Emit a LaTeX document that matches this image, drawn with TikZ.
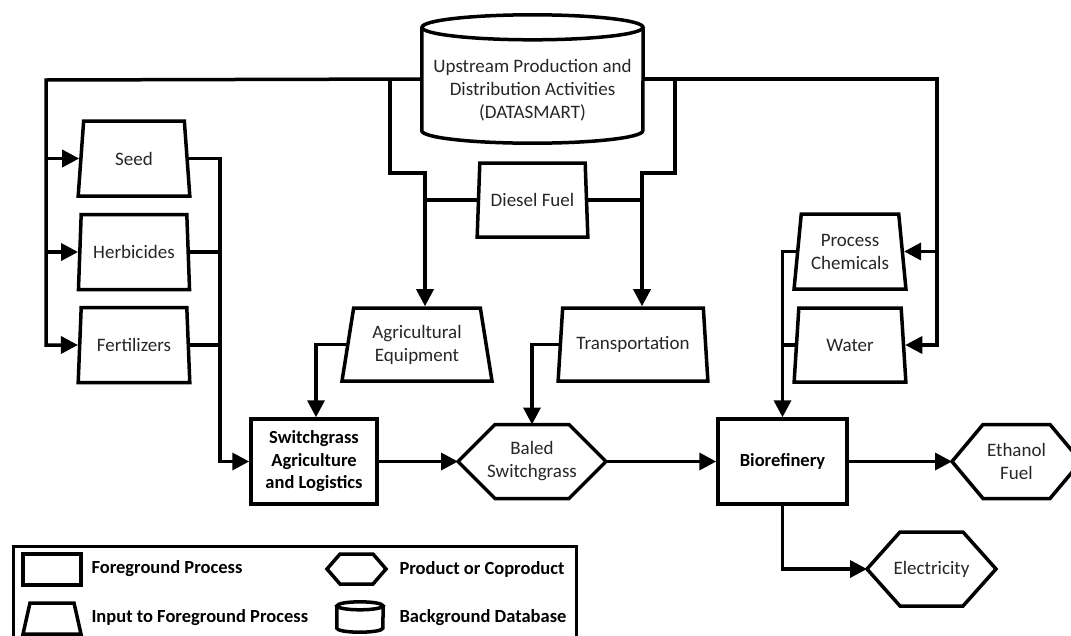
\documentclass[tikz,border=0pt]{standalone}
\usepackage{fontspec}
\setmainfont{Carlito}
\usetikzlibrary{shapes.geometric,arrows.meta,calc}
\newcommand\hexdraw[2]{\draw[ln] (#1.west) -- ($(#1.north west)+(#2,0)$) -- ($(#1.north east)+(-#2,0)$) -- (#1.east) -- ($(#1.south east)+(-#2,0)$) -- ($(#1.south west)+(#2,0)$) -- cycle;}
\begin{document}
\begin{tikzpicture}[x=1pt,y=-1pt,
  every node/.style={font=\fontsize{19}{23}\selectfont, text=black!85, align=center},
  ln/.style={line width=3.5pt},
  arr/.style={ln, -{Triangle[length=17pt,width=17pt]}},
  proc/.style={draw, ln, rectangle, minimum height=85pt, font=\fontsize{18.5}{22.5}\selectfont\bfseries, text=black},
  inpbox/.style n args={3}{draw, ln, trapezium, trapezium left angle=#3, trapezium right angle=#3, trapezium stretches=true, minimum width=#1, minimum height=#2, inner sep=1pt},
  prod/.style 2 args={rectangle, minimum width=#1, minimum height=#2, inner sep=0pt, outer sep=0pt},
  lgtext/.style={anchor=west, font=\fontsize{18.5}{22.5}\selectfont\bfseries, text=black},
  dbshape/.style={minimum width=#1, inner sep=0pt}
]
\useasboundingbox (0,0) rectangle (1071,635);

% database cylinder
\node[dbshape=221pt, minimum height=128pt] (db) at (532.5,79) {};
\draw[ln] ($(db.north)+(0,12.5)$) ellipse [x radius=110.5pt, y radius=12.5pt];
\draw[ln] ($(db.north west)+(0,12.5)$) -- ($(db.south west)+(0,-12.5)$)
  arc[start angle=180, end angle=360, x radius=110.5pt, y radius=12.5pt]
  -- ($(db.north east)+(0,12.5)$);
\node (dbtext) at (532.5,90) {Upstream Production and\\Distribution Activities\\(DATASMART)};

% inputs
\node[inpbox={112pt}{75pt}{82}] (seed) at (134,158.5) {Seed};
\node[inpbox={112pt}{75pt}{82}] (herb) at (134,252) {Herbicides};
\node[inpbox={112pt}{75pt}{82}] (fert) at (134,345) {Fertilizers};
\node[inpbox={111pt}{74pt}{82}] (diesel) at (532.5,200) {Diesel Fuel};
\node[inpbox={150pt}{73pt}{78.5}] (ag) at (417,344.5) {Agricultural\\Equipment};
\node[inpbox={150pt}{73pt}{78.5}] (trans) at (633,344.5) {Transportation};
\node[inpbox={112pt}{75pt}{81}] (pc) at (850,251.5) {Process\\Chemicals};
\node[inpbox={112pt}{74pt}{81}] (water) at (850,345) {Water};

% processes
\node[proc, minimum width=126pt] (sw) at (314,461.5) {Switchgrass\\Agriculture\\and Logistics};
\node[proc, minimum width=129pt] (bio) at (782.5,461.5) {Biorefinery};

% products
\node[prod={148pt}{74pt}] (baled) at (532,461.5) {Baled\\Switchgrass};
\hexdraw{baled}{37}
\node[prod={129pt}{74pt}] (eth) at (1016.5,461.5) {Ethanol\\Fuel};
\hexdraw{eth}{31}
\node[prod={129pt}{74pt}] (elec) at (931.5,569) {Electricity};
\hexdraw{elec}{33}

% junction coordinates
\coordinate (lb) at (46,80);
\coordinate (j1) at (390,80);
\coordinate (j2) at (425,173);
\coordinate (j3) at (675,79);
\coordinate (j4) at (642,173);
\coordinate (rb) at (937,79);
\coordinate (ib) at (220,0);
\coordinate (ax) at (316,0);

% connectors from database
\draw[arr] (db.west) -- (lb) |- (fert.west);
\draw[arr] (lb |- seed.west) -- (seed.west);
\draw[arr] (lb |- herb.west) -- (herb.west);
\draw[arr] (j1) |- (j2) -- (j2 |- ag.north);
\draw[ln] (diesel.west) -- (diesel.west -| j2);
\draw[arr] (db.east) -- (rb) |- (water.east);
\draw[arr] (rb |- pc.east) -- (pc.east);
\draw[arr] (j3) |- (j4) -- (j4 |- trans.north);
\draw[ln] (diesel.east) -- (diesel.east -| j4);

% inputs to processes
\draw[arr] (seed.east) -| (ib |- sw.west) -- (sw.west);
\draw[ln] (herb.east) -- (herb.east -| ib);
\draw[ln] (fert.east) -- (fert.east -| ib);
\draw[arr] (ag.west) -| (ax |- sw.north);
\draw[arr] (trans.west) -| (baled.north);
\draw[arr] (pc.west) -| (bio.north);
\draw[ln] (water.west) -- (water.west -| bio.north);

% main chain
\draw[arr] (sw.east) -- (baled.west);
\draw[arr] (baled.east) -- (bio.west);
\draw[arr] (bio.east) -- (eth.west);
\draw[arr] (bio.south) |- (elec.west);

% legend
\node[draw, line width=3pt, minimum width=563pt, minimum height=100pt, anchor=north west, inner sep=0pt] (legend) at (12,545) {};
\node[draw, ln, minimum width=58pt, minimum height=31pt, inner sep=0pt] (lgp) at (52,569.5) {};
\node[lgtext] (lgpt) at (88,569) {Foreground Process};
\node[inpbox={58pt}{31pt}{81}] (lgi) at (52,618.5) {};
\node[lgtext] (lgit) at (88,618) {Input to Foreground Process};
\node[prod={59pt}{30pt}] (lgh) at (356.5,569) {};
\hexdraw{lgh}{13}
\node[lgtext] (lght) at (396,569) {Product or Coproduct};
\node[dbshape=46pt, minimum height=30pt] (lgd) at (360,617) {};
\draw[ln] ($(lgd.north)+(0,4)$) ellipse [x radius=23pt, y radius=4pt];
\draw[ln] ($(lgd.north west)+(0,4)$) -- ($(lgd.south west)+(0,-4)$)
  arc[start angle=180, end angle=360, x radius=23pt, y radius=4pt]
  -- ($(lgd.north east)+(0,4)$);
\node[lgtext] (lgdt) at (396,618) {Background Database};
\end{tikzpicture}
\end{document}
